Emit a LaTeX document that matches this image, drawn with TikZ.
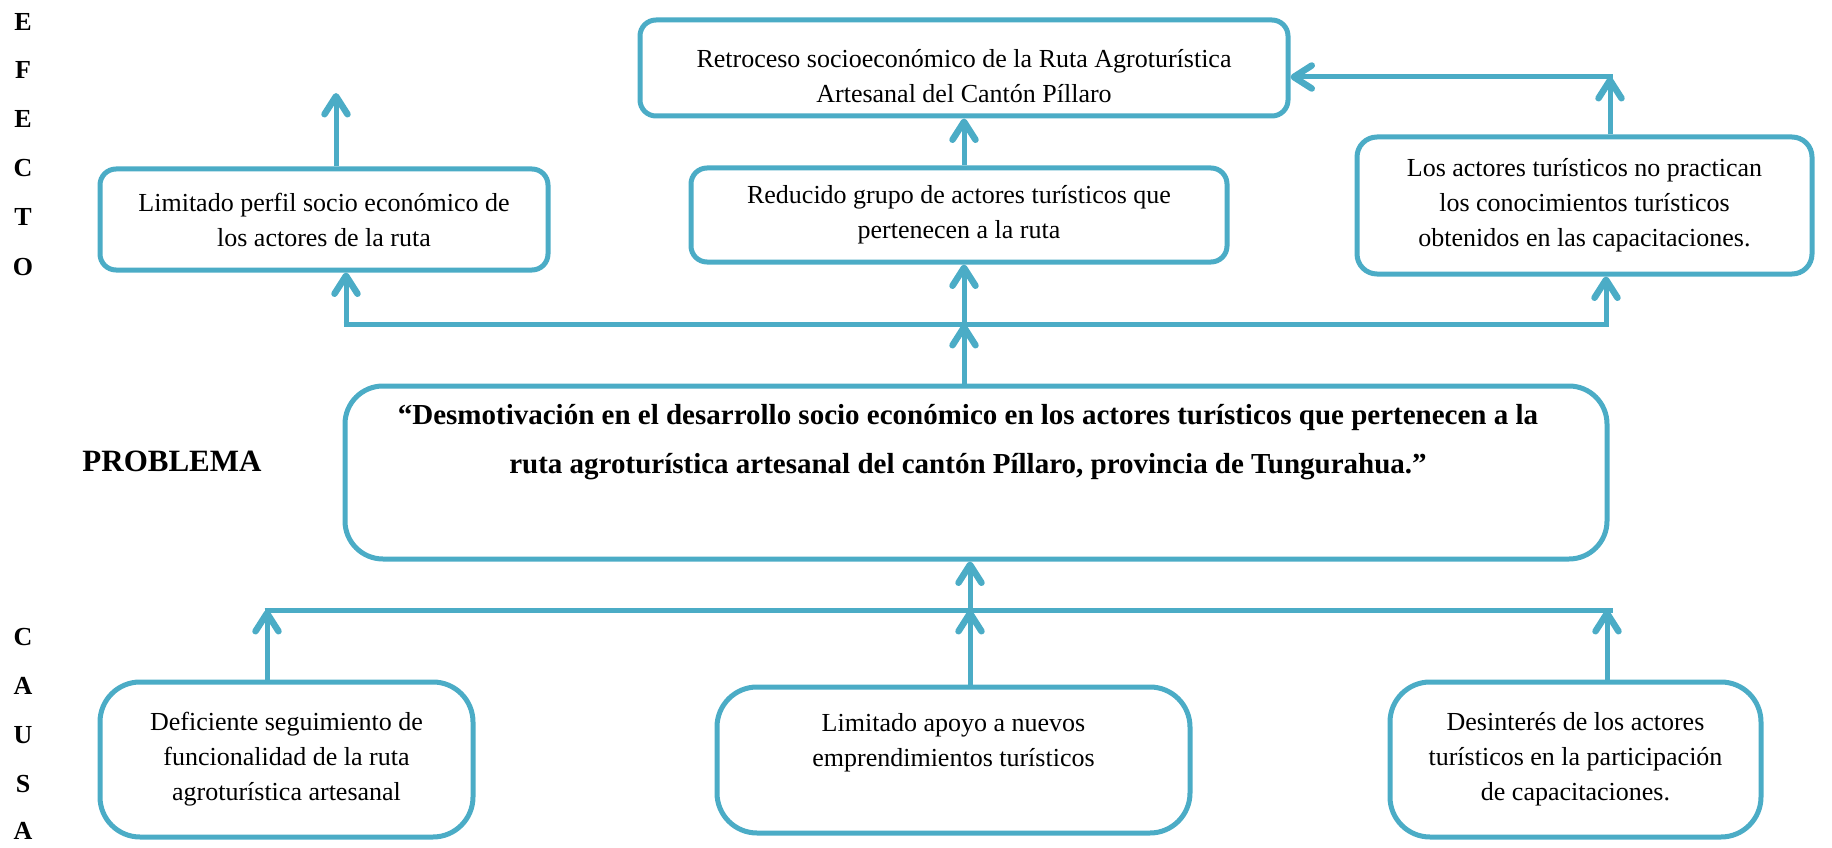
\documentclass[tikz,border=0pt]{standalone}
\usepackage{fontspec}
\setmainfont{Liberation Serif}
\usetikzlibrary{arrows.meta,calc}
\definecolor{acc}{RGB}{75,172,198}
\begin{document}
\begin{tikzpicture}[x=1pt,y=-1pt,
  box/.style={draw=acc,line width=5pt,fill=white,align=center,inner sep=0pt,font=\fontsize{26}{35}\selectfont},
  txt/.style={align=center,inner sep=0pt,font=\fontsize{26}{35}\selectfont},
  ptxt/.style={align=center,inner sep=0pt,font=\bfseries\fontsize{29}{49}\selectfont},
  arr/.style={draw=acc,line width=5pt,-{Straight Barb[length=18pt,width=23pt,line width=6.5pt,round]}},
  ln/.style={draw=acc,line width=5pt},
  side/.style={inner sep=0pt,font=\bfseries\fontsize{26}{26}\selectfont}]
\useasboundingbox (0,0) rectangle (1832,848);

% side labels
\node[side] (e1) at (23,22) {E};
\node[side] (e2) at (23,70) {F};
\node[side] (e3) at (23,119) {E};
\node[side] (e4) at (23,168) {C};
\node[side] (e5) at (23,217) {T};
\node[side] (e6) at (23,267) {O};
\node[side] (c1) at (23,637) {C};
\node[side] (c2) at (23,686) {A};
\node[side] (c3) at (23,735) {U};
\node[side] (c4) at (23,784) {S};
\node[side] (c5) at (23,831) {A};
\node[inner sep=0pt,font=\bfseries\fontsize{31}{31}\selectfont] (prob) at (172,461) {PROBLEMA};

% effect boxes
\node[box,rounded corners=16pt,minimum width=648pt,minimum height=96pt] (T) at (964,68) {};
\node[txt] (Tt) at (964,76) {Retroceso socioeconómico de la Ruta Agroturística\\Artesanal del Cantón Píllaro};
\node[box,rounded corners=16pt,minimum width=448pt,minimum height=101pt] (L) at (324,219.5)
  {Limitado perfil socio económico de\\los actores de la ruta};
\node[box,rounded corners=16pt,minimum width=536pt,minimum height=94pt] (M) at (959,215)
  {Reducido grupo de actores turísticos que\\pertenecen a la ruta};
\node[box,rounded corners=20pt,minimum width=455pt,minimum height=137pt] (R) at (1584.5,205.5)
  {Los actores turísticos no practican\\los conocimientos turísticos\\obtenidos en las capacitaciones.};

% problem
\node[box,rounded corners=38pt,minimum width=1262pt,minimum height=173pt] (P) at (976,472.5) {};
\node[ptxt] (Pt) at (968,442) {“Desmotivación en el desarrollo socio económico en los actores turísticos que pertenecen a la\\ruta agroturística artesanal del cantón Píllaro, provincia de Tungurahua.”};

% cause boxes
\node[box,rounded corners=40pt,minimum width=373pt,minimum height=155pt] (BL) at (286.5,759.5)
  {Deficiente seguimiento de\\funcionalidad de la ruta\\agroturística artesanal};
\node[box,rounded corners=40pt,minimum width=473pt,minimum height=146pt] (BM) at (953.5,760) {};
\node[txt] (BMt) at (953.5,743) {Limitado apoyo a nuevos\\emprendimientos turísticos};
\node[box,rounded corners=40pt,minimum width=371pt,minimum height=155pt] (BR) at (1575.5,759.5)
  {Desinterés de los actores\\turísticos en la participación\\de capacitaciones.};

% upper connectors
\coordinate (ua) at (346,324);
\coordinate (um) at (964,324);
\coordinate (ub) at (1606,324);
\draw[ln] ($(ua)+(-2.5,0)$) -- ($(ub)+(2.5,0)$);
\draw[arr] (um |- P.north) -- (um);
\draw[arr] (ua) -- (ua |- L.south);
\draw[arr] (um) -- (um |- M.south);
\draw[arr] (ub) -- (ub |- R.south);
\coordinate (lt) at (336,93);
\draw[arr] (lt |- L.north) -- (lt);
\draw[arr] (T.south |- M.north) -- (T.south);
\coordinate (rc) at (1610,77);
\draw[arr] (rc |- R.north) -- (rc);
\draw[arr] ($(rc)+(2.5,0)$) -- (rc -| T.east);

% lower connectors
\coordinate (da) at (267,610);
\coordinate (dm) at (970,610);
\coordinate (dr) at (1607,610);
\coordinate (db) at (1613,610);
\draw[ln] ($(da)+(-2.5,0)$) -- (db);
\draw[arr] (da |- BL.north) -- (da);
\draw[arr] (dm |- BM.north) -- (dm);
\draw[arr] (dr |- BR.north) -- (dr);
\draw[arr] (dm) -- (dm |- P.south);
\end{tikzpicture}
\end{document}
